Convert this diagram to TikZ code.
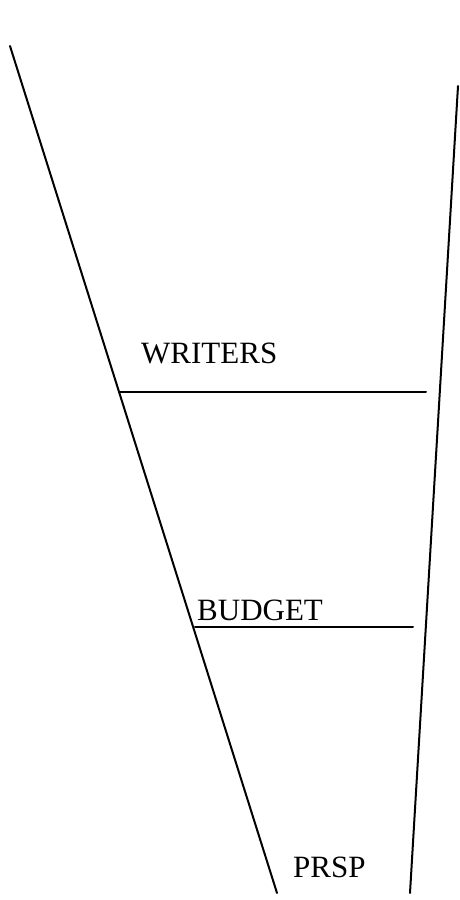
\documentclass[tikz,border=0pt]{standalone}
\usepackage{fontspec}
\setmainfont{Liberation Serif}
\usepackage{tikz}
\usetikzlibrary{positioning}

\begin{document}
\begin{tikzpicture}[
  x=1pt, y=-1pt,
  edge/.style={draw, line width=2pt, line cap=round},
  tier/.style={inner sep=0pt, anchor=base west, font=\fontsize{31}{36}\selectfont},
]
\useasboundingbox (0,0) rectangle (459,900);

% funnel sides
\coordinate (lt) at (10,46);
\coordinate (lb) at (277,893);
\coordinate (rt) at (458,86);
\coordinate (rb) at (410,893);
\draw[edge] (lt) -- (lb);
\draw[edge] (rt) -- (rb);

% tiers
\node[tier] (writers) at (141,363) {WRITERS};
\coordinate (w1) at (119,392);
\coordinate (w2) at (426,392);
\draw[edge] (w1) -- (w2);

\node[tier] (budget) at (197,620) {BUDGET};
\coordinate (b1) at (195,627);
\coordinate (b2) at (413,627);
\draw[edge] (b1) -- (b2);

\node[tier] (prsp) at (293,877) {PRSP};
\end{tikzpicture}
\end{document}
